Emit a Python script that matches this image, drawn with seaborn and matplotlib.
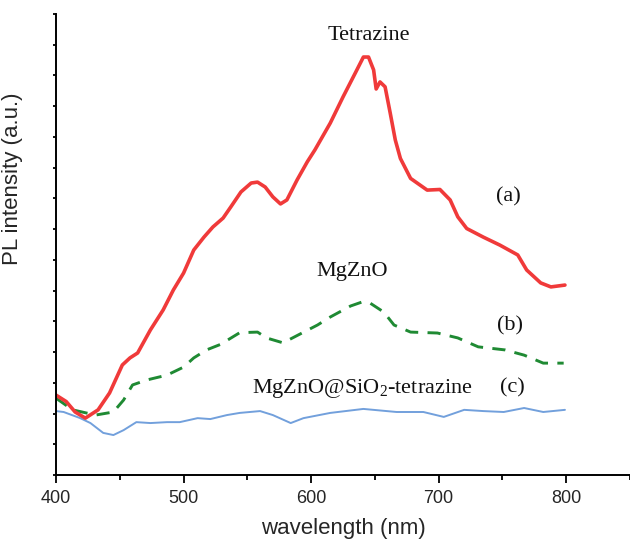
import matplotlib
matplotlib.use("Agg")
import matplotlib.pyplot as plt
import seaborn as sns
import pandas as pd
import numpy as np
from matplotlib.ticker import MultipleLocator, FixedLocator

# --- data ---
red_x = [400, 408, 415, 423, 433, 442, 452, 458, 464, 474, 484, 492, 500, 508, 516, 523, 531, 537,
         545, 553, 558, 564, 570, 576, 581, 589, 597, 603, 615, 625, 635, 641, 645, 649, 651, 654,
         658, 662, 666, 670, 678, 691, 701, 709, 715, 722, 735, 748, 762, 769, 780, 788, 799]
red_y = [2.60, 2.39, 2.05, 1.85, 2.12, 2.67, 3.58, 3.81, 3.97, 4.72, 5.37, 6.02, 6.57, 7.32, 7.74,
         8.07, 8.36, 8.72, 9.21, 9.50, 9.53, 9.37, 9.05, 8.82, 8.95, 9.60, 10.19, 10.58, 11.45,
         12.30, 13.11, 13.60, 13.60, 13.18, 12.56, 12.79, 12.63, 11.78, 10.90, 10.30, 9.65, 9.27,
         9.29, 8.95, 8.40, 8.02, 7.74, 7.48, 7.16, 6.67, 6.25, 6.12, 6.18]

green_x = [400, 413, 431, 445, 453, 460, 471, 487, 500, 508, 518, 529, 544, 558, 565, 578, 591,
           605, 615, 631, 640, 646, 657, 665, 678, 699, 715, 731, 752, 767, 782, 798]
green_y = [2.50, 2.12, 1.95, 2.05, 2.44, 2.93, 3.09, 3.25, 3.51, 3.81, 4.07, 4.25, 4.63, 4.65,
           4.46, 4.30, 4.58, 4.88, 5.14, 5.50, 5.63, 5.60, 5.30, 4.88, 4.65, 4.62, 4.46, 4.17,
           4.07, 3.90, 3.64, 3.64]

blue_x = [400, 406, 419, 427, 437, 445, 453, 463, 474, 487, 497, 511, 521, 534, 544, 560, 570,
          584, 594, 615, 641, 667, 688, 704, 720, 735, 751, 767, 782, 799]
blue_y = [2.08, 2.05, 1.85, 1.69, 1.37, 1.30, 1.46, 1.72, 1.69, 1.72, 1.72, 1.85, 1.82, 1.95,
          2.02, 2.08, 1.95, 1.69, 1.85, 2.02, 2.15, 2.05, 2.05, 1.89, 2.12, 2.08, 2.05, 2.18,
          2.05, 2.12]

x_ticks = [400, 500, 600, 700, 800]
x_tick_labels = ["400", "500", "600", "700", "800"]

labels_text = ["Tetrazine", "(a)", "MgZnO", "(b)", r"MgZnO@SiO$_\mathrm{2}$-tetrazine", "(c)"]
labels_x = [645, 755, 632, 756, 640, 758]
labels_y = [14.29, 9.05, 6.61, 4.85, 2.83, 2.83]

# --- style ---
sns.set_style("ticks")
plt.rcParams["font.family"] = ["Liberation Sans", "DejaVu Sans"]
plt.rcParams["mathtext.fontset"] = "custom"
plt.rcParams["mathtext.rm"] = "Liberation Serif"
plt.rcParams["lines.solid_joinstyle"] = "round"
plt.rcParams["lines.solid_capstyle"] = "round"
plt.rcParams["lines.dash_joinstyle"] = "round"

fig = plt.figure(figsize=(6.3, 5.48), dpi=100)
ax = fig.add_axes([56 / 630, 73 / 548, 574 / 630, 461 / 548])

df_red = pd.DataFrame({"x": red_x, "y": red_y})
df_green = pd.DataFrame({"x": green_x, "y": green_y})
df_blue = pd.DataFrame({"x": blue_x, "y": blue_y})

sns.lineplot(data=df_blue, x="x", y="y", ax=ax, color="#72A0DC", linewidth=1.4, sort=False)
sns.lineplot(data=df_green, x="x", y="y", ax=ax, color="#1F8A33", linewidth=2.1, sort=False,
             linestyle=(0, (4.5, 3.2)))
sns.lineplot(data=df_red, x="x", y="y", ax=ax, color="#F03A3A", linewidth=2.6, sort=False)

for t, xx, yy in zip(labels_text, labels_x, labels_y):
    ax.text(xx, yy, t, ha="center", va="center", fontsize=16,
            family=["Liberation Serif", "DejaVu Serif"], color="#111111")

ax.set_xlim(400, 850)
ax.set_ylim(0, 15)
ax.xaxis.set_major_locator(FixedLocator(x_ticks))
ax.set_xticklabels(x_tick_labels)
ax.xaxis.set_minor_locator(FixedLocator([450, 550, 650, 750, 850]))
ax.yaxis.set_major_locator(MultipleLocator(1))
ax.set_yticklabels([])

ax.tick_params(axis="x", which="major", direction="out", length=6, width=1.3, labelsize=13,
               pad=5, color="black")
ax.tick_params(axis="x", which="minor", direction="out", length=3.5, width=1.3, color="black")
ax.tick_params(axis="y", which="major", direction="out", length=2, width=1.3, color="black")

for s in ["top", "right"]:
    ax.spines[s].set_visible(False)
for s in ["left", "bottom"]:
    ax.spines[s].set_linewidth(1.4)
    ax.spines[s].set_color("black")

ax.set_xlabel("wavelength (nm)", fontsize=16, labelpad=8)
ax.set_ylabel("PL intensity (a.u.)", fontsize=16)
ax.yaxis.set_label_coords(-0.058, 0.642)

fig.savefig("out.png", dpi=100)
